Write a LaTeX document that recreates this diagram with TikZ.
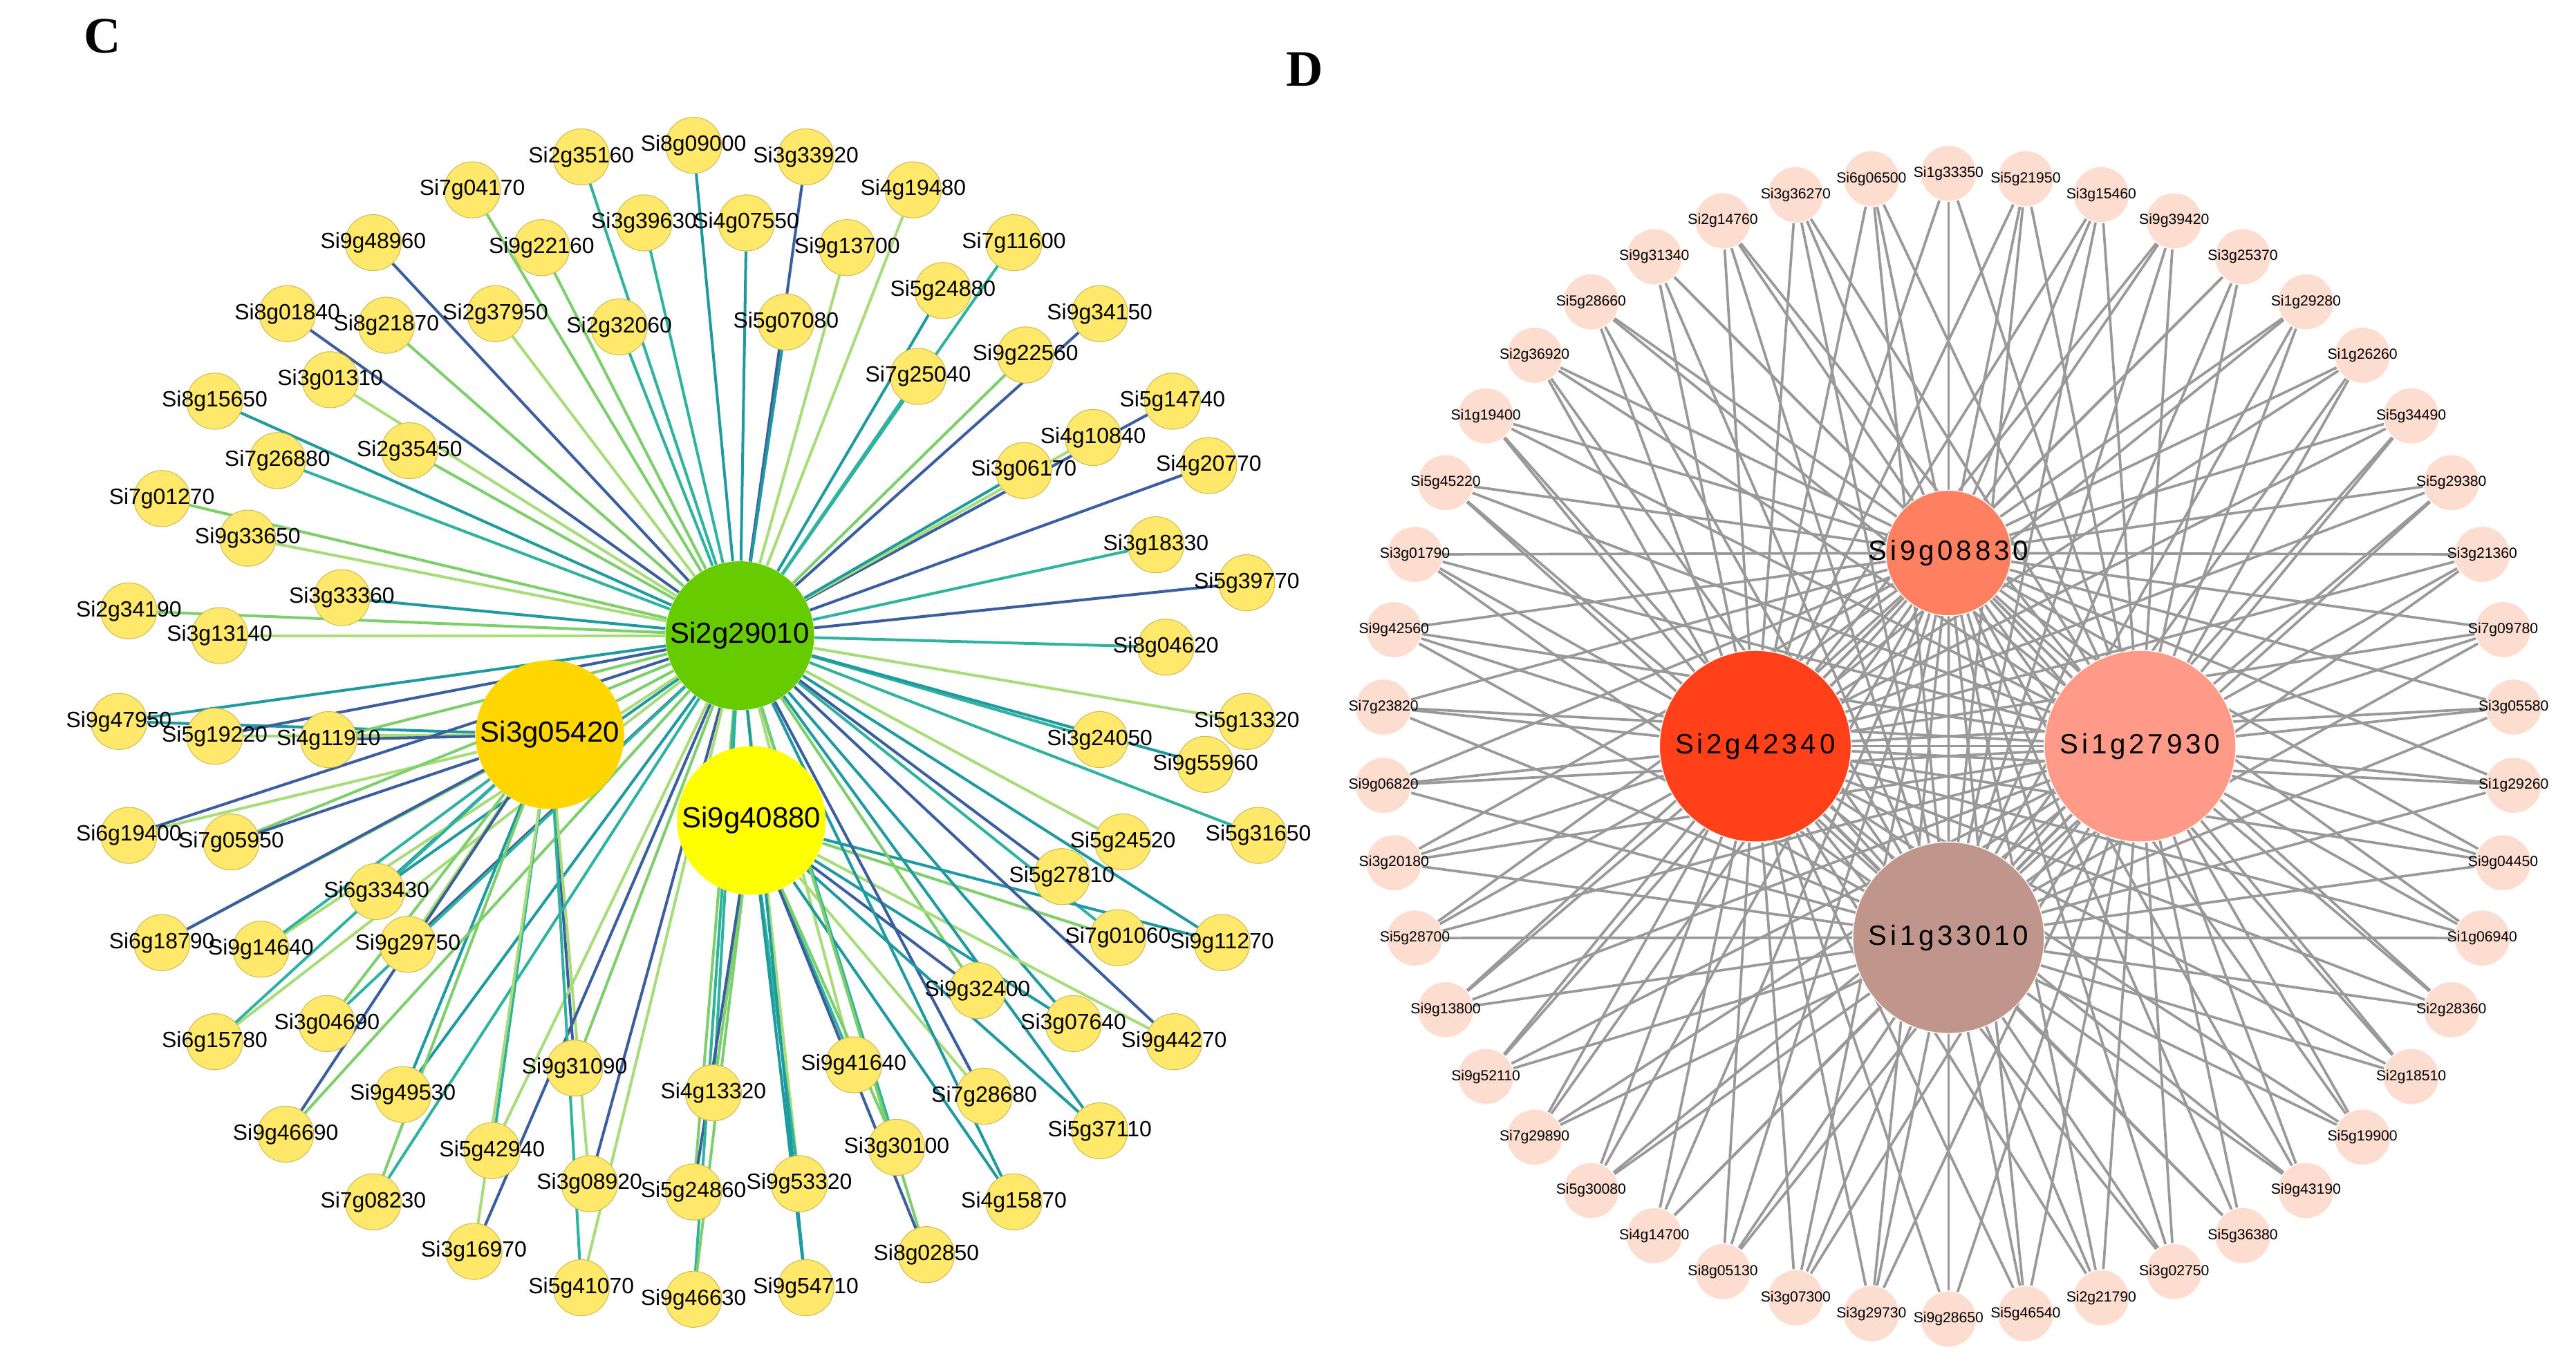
\documentclass[tikz,border=0pt]{standalone}
\usepackage{fontspec}
\setmainfont{Liberation Sans}
\newfontfamily\panelfont{Liberation Serif}
\usepackage{tikz}
\usetikzlibrary{arrows}
\pgfdeclarelayer{bg}
\pgfsetlayers{bg,main}

\definecolor{leafC}{HTML}{FFE86A}
\definecolor{e0}{HTML}{A8DC78}
\definecolor{e1}{HTML}{2FB3A0}
\definecolor{e2}{HTML}{1E9AA0}
\definecolor{e3}{HTML}{3A5E9E}
\definecolor{e4}{HTML}{7CCF6A}
\definecolor{dleafC}{HTML}{FDDDD0}
\definecolor{dlinkC}{HTML}{999999}

\tikzstyle{leaf} = [circle, fill=leafC, draw=leafC!80!black, line width=0.3pt,
    minimum size=0.85cm, inner sep=0pt]
\tikzstyle{ctext} = [inner sep=0pt, font=\fontsize{9.5}{10}\selectfont]
\tikzstyle{hub} = [circle, minimum size=2.25cm, inner sep=0pt]
\tikzstyle{htext} = [inner sep=0pt, font=\fontsize{12.5}{13}\selectfont]
\tikzstyle{dleaf} = [circle, fill=dleafC, draw=white, minimum size=0.85cm, inner sep=0pt]
\tikzstyle{dtext} = [inner sep=0pt, font=\fontsize{6.3}{7}\selectfont]
\tikzstyle{dhub} = [circle, draw=white, minimum size=2.9cm, inner sep=0pt]
\tikzstyle{dhtext} = [inner sep=0pt,
    font=\fontsize{12}{12}\addfontfeature{LetterSpace=12}\selectfont]
\tikzstyle{link} = [line width=1.2pt]
\tikzstyle{dlink} = [draw=dlinkC, line width=1.1pt]

\begin{document}
\begin{tikzpicture}[auto, x=0.025cm, y=-0.025cm, >=latex']
    \useasboundingbox (0,0) rectangle (1560,831);
    \node [font=\panelfont\bfseries\fontsize{22}{22}\selectfont] (labC) at (62,22) {C};
    \node [font=\panelfont\bfseries\fontsize{22}{22}\selectfont] (labD) at (790,42) {D};

    % panel C
    \node [hub, fill={rgb,255:red,102;green,204;blue,0}, label={[htext]center:Si2g29010}] (hA) at (448,385) {};
    \node [hub, fill={rgb,255:red,255;green,214;blue,0}, label={[htext]center:Si3g05420}] (hB) at (333,445) {};
    \node [hub, fill={rgb,255:red,255;green,255;blue,0}, label={[htext]center:Si9g40880}] (hC) at (455,497) {};
    \def\clist{Si2g35160/352/95, Si8g09000/420/88, Si3g33920/488/95, Si7g04170/286/115,
      Si4g19480/553/115, Si3g39630/390/135, Si4g07550/452/135, Si9g48960/226/147,
      Si9g22160/328/150, Si9g13700/513/150, Si7g11600/614/147, Si5g24880/571/176,
      Si8g01840/174/190, Si8g21870/234/197, Si2g37950/300/190, Si2g32060/375/198,
      Si5g07080/476/195, Si9g34150/666/190, Si9g22560/621/215, Si3g01310/200/230,
      Si7g25040/556/228, Si8g15650/130/243, Si5g14740/710/243, Si2g35450/248/273,
      Si4g10840/662/265, Si7g26880/168/279, Si3g06170/620/285, Si4g20770/732/282,
      Si7g01270/98/302, Si9g33650/150/326, Si3g18330/700/330, Si3g33360/207/362,
      Si5g39770/755/353, Si2g34190/78/370, Si3g13140/133/385, Si8g04620/706/392,
      Si9g47950/72/437, Si5g19220/130/446, Si4g11910/199/448, Si5g13320/755/437,
      Si3g24050/666/448, Si9g55960/730/463, Si6g19400/78/506, Si7g05950/140/510,
      Si5g24520/680/510, Si5g31650/762/506, Si6g33430/228/540, Si5g27810/643/531,
      Si6g18790/98/571, Si9g14640/158/575, Si7g01060/677/568, Si9g11270/740/571,
      Si9g29750/247/572, Si9g32400/592/600, Si6g15780/130/631, Si3g04690/198/620,
      Si3g07640/650/620, Si9g44270/711/631, Si9g31090/348/647, Si9g41640/517/645,
      Si4g13320/432/662, Si9g49530/244/663, Si7g28680/596/664, Si9g46690/173/687,
      Si5g42940/298/697, Si3g30100/543/695, Si5g37110/666/685, Si3g08920/357/717,
      Si5g24860/420/722, Si9g53320/484/717, Si7g08230/226/728, Si4g15870/614/728,
      Si3g16970/287/758, Si8g02850/561/760, Si5g41070/352/780, Si9g46630/420/787,
      Si9g54710/488/780}
    \foreach \n/\x/\y in \clist
        \node [leaf, label={[ctext]center:\n}] (\n) at (\x,\y) {};
    \begin{pgfonlayer}{bg}
    \foreach \n/\x/\y [count=\i] in \clist {
        \pgfmathtruncatemacro\r{mod(\i,5)}
        \pgfmathtruncatemacro\s{mod(\i*3+1,5)}
        \draw [link, color=e\r] (\n) -- (hA);
        \ifnum\y>420 \ifnum\x<400 \draw [link, color=e\s] (\n) -- (hB); \fi\fi
        \ifnum\y>560 \ifnum\x>399 \draw [link, color=e\s] (\n) -- (hC); \fi\fi
    }
    \end{pgfonlayer}

    % panel D
    \node [dhub, minimum size=1.9cm, fill={rgb,255:red,255;green,128;blue,96}, label={[dhtext]center:Si9g08830}] (dA) at (1180,335) {};
    \node [dhub, fill={rgb,255:red,255;green,64;blue,24}, label={[dhtext]center:Si2g42340}] (dB) at (1063,452) {};
    \node [dhub, fill={rgb,255:red,255;green,154;blue,136}, label={[dhtext]center:Si1g27930}] (dC) at (1296,452) {};
    \node [dhub, fill={rgb,255:red,192;green,150;blue,140}, label={[dhtext]center:Si1g33010}] (dD) at (1180,568) {};
    \def\dlist{Si1g33350, Si5g21950, Si3g15460, Si9g39420, Si3g25370, Si1g29280,
      Si1g26260, Si5g34490, Si5g29380, Si3g21360, Si7g09780, Si3g05580, Si1g29260,
      Si9g04450, Si1g06940, Si2g28360, Si2g18510, Si5g19900, Si9g43190, Si5g36380,
      Si3g02750, Si2g21790, Si5g46540, Si9g28650, Si3g29730, Si3g07300, Si8g05130,
      Si4g14700, Si5g30080, Si7g29890, Si9g52110, Si9g13800, Si5g28700, Si3g20180,
      Si9g06820, Si7g23820, Si9g42560, Si3g01790, Si5g45220, Si1g19400, Si2g36920,
      Si5g28660, Si9g31340, Si2g14760, Si3g36270, Si6g06500}
    \foreach \n [count=\i from 0] in \dlist
        \node [dleaf, label={[dtext]center:\n}] (d\n) at ({1180+343*cos(90-\i*360/46)},{452-347*sin(90-\i*360/46)}) {};
    \begin{pgfonlayer}{bg}
    \foreach \n in \dlist
        \foreach \h in {dA,dB,dC,dD}
            \draw [dlink] (d\n) -- (\h);
    \draw [dlink] (dA) -- (dB) -- (dD) -- (dC) -- (dA) -- (dD);
    \draw [dlink] (dB) -- (dC);
    \end{pgfonlayer}
\end{tikzpicture}
\end{document}
